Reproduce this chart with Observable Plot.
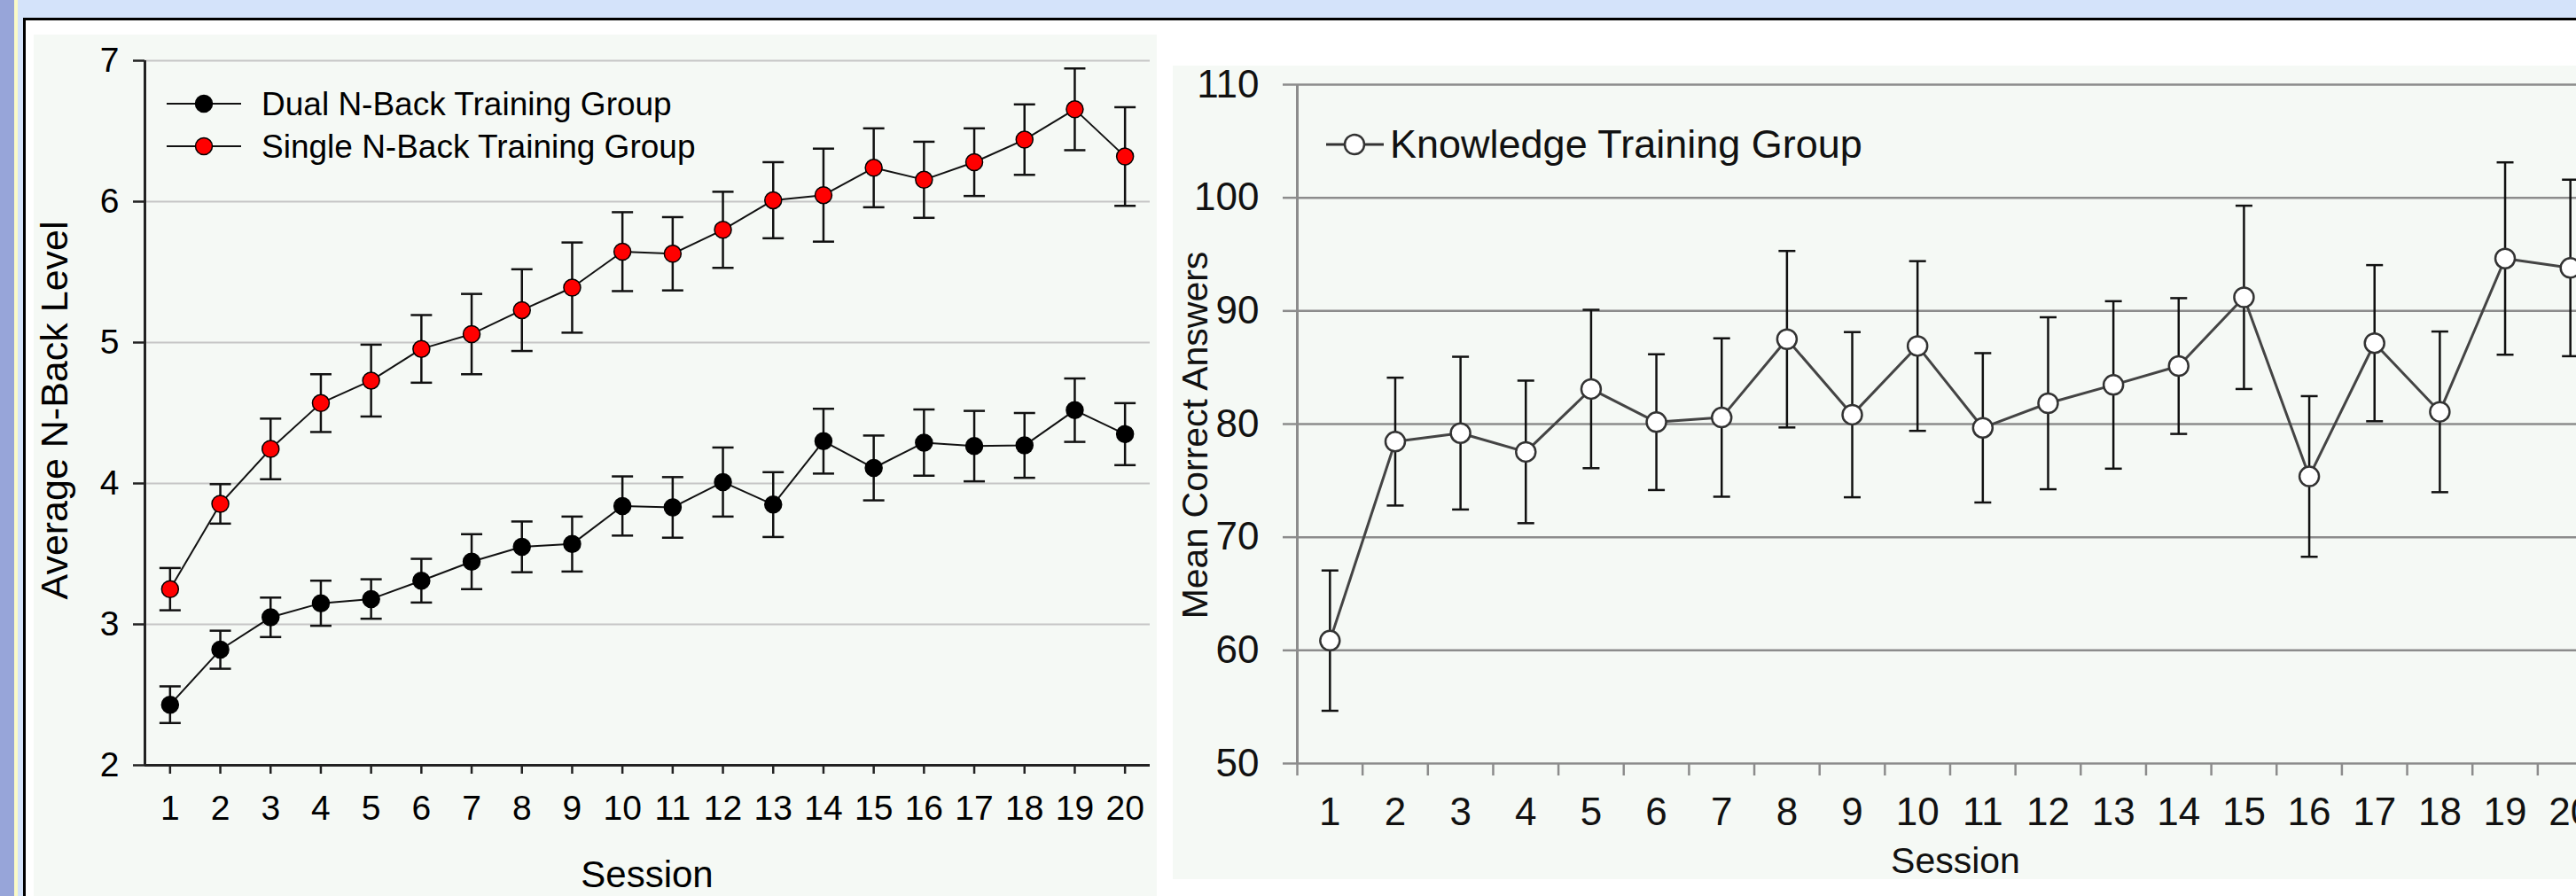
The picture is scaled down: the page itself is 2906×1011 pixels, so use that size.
<!DOCTYPE html>
<html>
<head>
<meta charset="utf-8">
<script src="https://cdn.jsdelivr.net/npm/d3@7"></script>
<script src="https://cdn.jsdelivr.net/npm/@observablehq/plot@0.6"></script>
<style>
  html, body { margin: 0; padding: 0; }
  body { width: 2906px; height: 1011px; overflow: hidden; position: relative; background: #d4e3fa; font-family: "Liberation Sans", Arial, sans-serif; }
  #strip { position: absolute; left: 0; top: 0; width: 16px; height: 1011px; background: #97a5d9; }
  #yline { position: absolute; left: 16px; top: 0; width: 4px; height: 1011px; background: #fafac6; }
  #panel { position: absolute; left: 26px; top: 20px; width: 3000px; height: 1100px; background: #ffffff; border-left: 3px solid #000; border-top: 3px solid #000; box-sizing: border-box; }
  .chart { position: absolute; }
  .chart svg { max-width: none !important; }
  .title { position: absolute; white-space: nowrap; line-height: 1; color: #000; }
  .rot { transform: translate(-50%, -50%) rotate(-90deg); }
  .legend { position: absolute; overflow: visible; }
</style>
</head>
<body>
<div id="strip"></div>
<div id="yline"></div>
<div id="panel"></div>
<div id="left" class="chart" style="left:38px; top:39px; width:1267px; height:972px;"></div>
<div id="right" class="chart" style="left:1323px; top:74px; width:1650px; height:918px;"></div>

<div class="title rot" style="left:61px; top:463px; font-size:43px;">Average N-Back Level</div>
<div class="title" style="left:730px; top:966px; font-size:42px; transform:translateX(-50%);">Session</div>
<div class="title rot" style="left:1348px; top:491px; font-size:41px; color:#111;">Mean Correct Answers</div>
<div class="title" style="left:2206px; top:951px; font-size:41px; transform:translateX(-50%); color:#111;">Session</div>

<svg class="legend" style="left:0; top:0;" width="2906" height="260">
  <g font-family="Liberation Sans, Arial, sans-serif">
    <line x1="188" x2="272" y1="117" y2="117" stroke="#111" stroke-width="2"/>
    <circle cx="230" cy="117" r="9.5" fill="#000" stroke="#000" stroke-width="1.5"/>
    <text x="295" y="130" font-size="37" fill="#000">Dual N-Back Training Group</text>
    <line x1="188" x2="272" y1="165" y2="165" stroke="#111" stroke-width="2"/>
    <circle cx="230" cy="165" r="9.5" fill="#ff0000" stroke="#000" stroke-width="1.5"/>
    <text x="295" y="178" font-size="37" fill="#000">Single N-Back Training Group</text>
    <line x1="1496" x2="1561" y1="163" y2="163" stroke="#333" stroke-width="3"/>
    <circle cx="1528" cy="163" r="11" fill="#fff" stroke="#333" stroke-width="2.5"/>
    <text x="1568" y="178" font-size="45" fill="#111">Knowledge Training Group</text>
  </g>
</svg>

<script>
// ---- data ----
const sessions = [1, 2, 3, 4, 5, 6, 7, 8, 9, 10, 11, 12, 13, 14, 15, 16, 17, 18, 19, 20];

const dualMean = [2.43, 2.82, 3.05, 3.15, 3.18, 3.31, 3.445, 3.55, 3.57, 3.84, 3.83, 4.01, 3.85, 4.30, 4.11, 4.29, 4.265, 4.27, 4.52, 4.35];
const dualErr  = [0.13, 0.135, 0.14, 0.16, 0.14, 0.155, 0.195, 0.18, 0.195, 0.21, 0.215, 0.245, 0.23, 0.23, 0.23, 0.235, 0.25, 0.23, 0.225, 0.22];

const singleMean = [3.25, 3.855, 4.245, 4.57, 4.73, 4.955, 5.06, 5.23, 5.39, 5.645, 5.63, 5.80, 6.01, 6.046, 6.24, 6.155, 6.28, 6.44, 6.655, 6.32];
const singleErr  = [0.15, 0.14, 0.215, 0.205, 0.255, 0.24, 0.285, 0.29, 0.32, 0.28, 0.26, 0.27, 0.27, 0.33, 0.28, 0.27, 0.24, 0.25, 0.29, 0.35];

const knowledgeMean = [60.86, 78.45, 79.2, 77.54, 83.1, 80.17, 80.58, 87.5, 80.83, 86.9, 79.67, 81.84, 83.46, 85.13, 91.2, 75.37, 87.15, 81.08, 94.63, 93.8];
const knowledgeErr  = [6.2, 5.65, 6.75, 6.3, 7.0, 6.0, 7.0, 7.8, 7.3, 7.5, 6.6, 7.6, 7.4, 6.0, 8.1, 7.1, 6.9, 7.1, 8.5, 7.8];

const leftYTicks = [2, 3, 4, 5, 6, 7];
const rightYTicks = [50, 60, 70, 80, 90, 100, 110];

// ---- helpers ----
const rows = (means, errs) => sessions.map((s, i) => ({session: s, mean: means[i], lo: means[i] - errs[i], hi: means[i] + errs[i]}));
const dual = rows(dualMean, dualErr);
const single = rows(singleMean, singleErr);
const knowledge = rows(knowledgeMean, knowledgeErr);

const xDomain = [sessions[0] - 0.5, sessions[sessions.length - 1] + 0.5];
const boundaries = [xDomain[0], ...sessions.map(s => s + 0.5)];
const intFmt = d => String(d);

const cap = {draw(ctx, size) { const r = Math.sqrt(size / Math.PI); ctx.moveTo(-r, 0); ctx.lineTo(r, 0); }};

function errorMarks(data, capR, color, width) {
  return [
    Plot.ruleX(data, {x: "session", y1: "lo", y2: "hi", stroke: color, strokeWidth: width}),
    Plot.dot(data, {x: "session", y: "hi", symbol: cap, r: capR, fill: "none", stroke: color, strokeWidth: width}),
    Plot.dot(data, {x: "session", y: "lo", symbol: cap, r: capR, fill: "none", stroke: color, strokeWidth: width})
  ];
}

// ---- left chart ----
const left = Plot.plot({
  width: 1267, height: 972,
  marginLeft: 125, marginRight: 8, marginTop: 29, marginBottom: 148,
  style: {background: "#f5f9f5", fontFamily: "Liberation Sans, Arial, sans-serif", fontSize: "39px", color: "#000", overflow: "visible", maxWidth: "none"},
  x: {domain: xDomain},
  y: {domain: [leftYTicks[0], leftYTicks[leftYTicks.length - 1]]},
  marks: [
    Plot.ruleY(leftYTicks.slice(1), {stroke: "#c6c6c6", strokeWidth: 2}),
    Plot.ruleY([leftYTicks[0]], {stroke: "#222", strokeWidth: 3}),
    Plot.ruleX([xDomain[0]], {stroke: "#222", strokeWidth: 3}),
    Plot.axisY({ticks: leftYTicks, tickFormat: intFmt, tickSize: 13, tickPadding: 16, label: null, stroke: "#222", strokeWidth: 2.5, fill: "#000", fontSize: 39}),
    Plot.axisX({ticks: sessions, tickFormat: intFmt, tickSize: 10, tickPadding: 24, label: null, stroke: "#222", strokeWidth: 2.5, fill: "#000", fontSize: 39}),
    ...errorMarks(dual, 12, "#111", 2.5),
    ...errorMarks(single, 12, "#111", 2.5),
    Plot.line(dual, {x: "session", y: "mean", stroke: "#111", strokeWidth: 2}),
    Plot.line(single, {x: "session", y: "mean", stroke: "#111", strokeWidth: 2}),
    Plot.dot(dual, {x: "session", y: "mean", r: 9.5, fill: "#000", stroke: "#000", strokeWidth: 1.5}),
    Plot.dot(single, {x: "session", y: "mean", r: 9.5, fill: "#ff0000", stroke: "#000", strokeWidth: 1.5})
  ]
});
document.getElementById("left").append(left);

// ---- right chart ----
const right = Plot.plot({
  width: 1650, height: 918,
  marginLeft: 140, marginRight: 37, marginTop: 21, marginBottom: 131,
  style: {background: "#f5f9f5", fontFamily: "Liberation Sans, Arial, sans-serif", fontSize: "44px", color: "#111", overflow: "visible", maxWidth: "none"},
  x: {domain: xDomain},
  y: {domain: [rightYTicks[0], rightYTicks[rightYTicks.length - 1]]},
  marks: [
    Plot.ruleY(rightYTicks, {stroke: "#8c8c8c", strokeWidth: 2.5}),
    Plot.ruleX([xDomain[0]], {stroke: "#8c8c8c", strokeWidth: 3}),
    Plot.axisY({ticks: rightYTicks, tickFormat: intFmt, tickSize: 16, tickPadding: 27, label: null, stroke: "#8c8c8c", strokeWidth: 2.5, fill: "#111", fontSize: 44}),
    Plot.axisX({ticks: boundaries, tickSize: 14, tickFormat: () => "", label: null, stroke: "#8c8c8c", strokeWidth: 2.5}),
    Plot.axisX({ticks: sessions, tickFormat: intFmt, tickSize: 0, tickPadding: 38, label: null, fill: "#111", fontSize: 44}),
    ...errorMarks(knowledge, 9.5, "#111", 2.5),
    Plot.line(knowledge, {x: "session", y: "mean", stroke: "#444", strokeWidth: 3}),
    Plot.dot(knowledge, {x: "session", y: "mean", r: 11, fill: "#ffffff", stroke: "#333", strokeWidth: 2.5})
  ]
});
document.getElementById("right").append(right);
</script>
</body>
</html>
